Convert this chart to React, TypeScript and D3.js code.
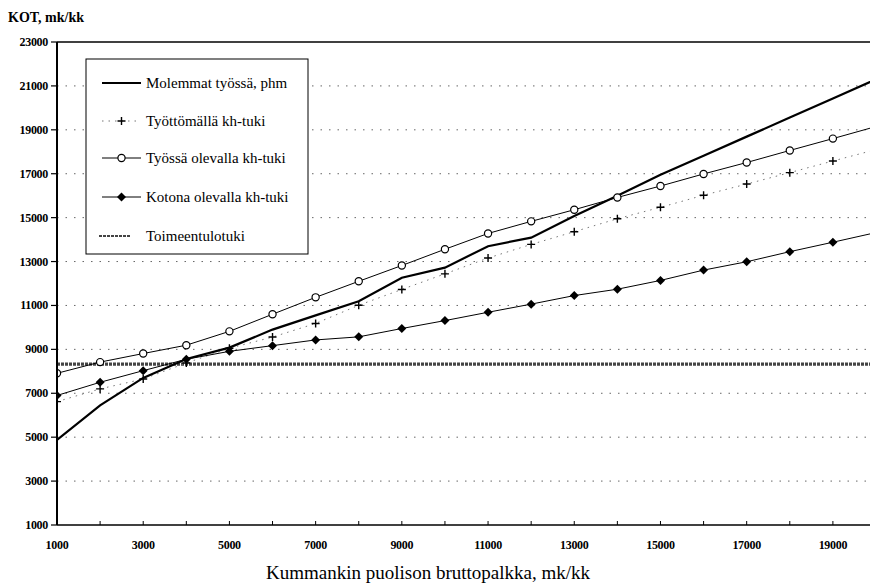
import React from "react";
import * as d3 from "d3";

const xValues = [1000, 2000, 3000, 4000, 5000, 6000, 7000, 8000, 9000, 10000, 11000, 12000, 13000, 14000, 15000, 16000, 17000, 18000, 19000, 20000];
const molemmat = [4880, 6450, 7700, 8560, 9080, 9900, 10550, 11190, 12260, 12720, 13700, 14090, 15070, 16000, 16950, 17820, 18690, 19560, 20430, 21300];
const tyottomalla = [6620, 7200, 7650, 8380, 9050, 9560, 10180, 11010, 11730, 12440, 13160, 13780, 14360, 14950, 15470, 16020, 16530, 17050, 17580, 18100];
const tyossa = [7910, 8420, 8810, 9190, 9820, 10600, 11370, 12100, 12820, 13560, 14280, 14830, 15360, 15920, 16440, 16990, 17510, 18060, 18600, 19150];
const kotona = [6900, 7500, 8030, 8550, 8910, 9170, 9430, 9570, 9950, 10310, 10690, 11060, 11450, 11740, 12140, 12610, 12990, 13450, 13880, 14320];
const toimeentulo = [8330, 8330, 8330, 8330, 8330, 8330, 8330, 8330, 8330, 8330, 8330, 8330, 8330, 8330, 8330, 8330, 8330, 8330, 8330, 8330];

const yTicks = [1000, 3000, 5000, 7000, 9000, 11000, 13000, 15000, 17000, 19000, 21000, 23000];
const xTickLabels = [1000, 3000, 5000, 7000, 9000, 11000, 13000, 15000, 17000, 19000];
const legendLabels = ["Molemmat työssä, phm", "Työttömällä kh-tuki", "Työssä olevalla kh-tuki", "Kotona olevalla kh-tuki", "Toimeentulotuki"];
const yTitle = "KOT, mk/kk";
const xTitle = "Kummankin puolison bruttopalkka, mk/kk";

const FONT = "'Liberation Serif', 'Times New Roman', serif";

export default function App() {
  const W = 870, H = 586;
  const left = 57, right = 876, top = 42, bottom = 525;
  const x = d3.scaleLinear().domain([1000, 20000]).range([left, right]);
  const y = d3.scaleLinear().domain([1000, 23000]).range([bottom, top]);

  const mk = (vals: number[]) =>
    d3.line<number>().x((_, i) => x(xValues[i])).y((v) => y(v))(vals) || "";

  const gridVals = yTicks.filter((v) => v > 1000 && v < 23000);
  const minorX = d3.range(1000, 20001, 1000);

  const plus = (cx: number, cy: number, s = 4) =>
    `M${cx - s},${cy}H${cx + s}M${cx},${cy - s}V${cy + s}`;
  const diamond = (cx: number, cy: number, s = 4.5) =>
    `M${cx},${cy - s}L${cx + s},${cy}L${cx},${cy + s}L${cx - s},${cy}Z`;

  const lgX = 86, lgY = 59, lgW = 222, lgH = 195;
  const rowY = [83, 121, 158, 197, 236];
  const sx0 = 102, sx1 = 141, tx = 146;

  return (
    <svg width={W} height={H} style={{ position: "absolute", left: 0, top: 0, background: "#fff" }} fontFamily={FONT}>
      <rect x={0} y={0} width={W} height={H} fill="#fff" />
      <clipPath id="plotclip">
        <rect x={left} y={top} width={right - left} height={bottom - top} />
      </clipPath>
      {gridVals.map((v) => (
        <line key={v} x1={left} x2={right} y1={y(v)} y2={y(v)} stroke="#666" strokeWidth={1} strokeDasharray="1.5 7" />
      ))}
      <g clipPath="url(#plotclip)">
        <path d={mk(toimeentulo)} fill="none" stroke="#444" strokeWidth={3.2} strokeDasharray="3 1" />
        <path d={mk(tyottomalla)} fill="none" stroke="#777" strokeWidth={1} strokeDasharray="1.5 5" />
        <path d={mk(kotona)} fill="none" stroke="#000" strokeWidth={1} />
        <path d={mk(tyossa)} fill="none" stroke="#000" strokeWidth={1} />
        <path d={mk(molemmat)} fill="none" stroke="#000" strokeWidth={2.2} />
        {tyottomalla.map((v, i) => (
          <path key={"p" + i} d={plus(x(xValues[i]), y(v))} stroke="#000" strokeWidth={1.4} fill="none" />
        ))}
        {kotona.map((v, i) => (
          <path key={"d" + i} d={diamond(x(xValues[i]), y(v))} fill="#000" />
        ))}
        {tyossa.map((v, i) => (
          <circle key={"c" + i} cx={x(xValues[i])} cy={y(v)} r={3.6} fill="#fff" stroke="#000" strokeWidth={1.2} />
        ))}
      </g>
      <line x1={left} x2={right} y1={top} y2={top} stroke="#000" strokeWidth={1.5} />
      <line x1={left} x2={right} y1={bottom} y2={bottom} stroke="#000" strokeWidth={1.5} />
      <line x1={left} x2={left} y1={top} y2={bottom} stroke="#000" strokeWidth={2} />
      {yTicks.map((v) => (
        <g key={v}>
          <line x1={left - 6} x2={left} y1={y(v)} y2={y(v)} stroke="#000" strokeWidth={1.2} />
          <text x={48} y={y(v) + 4} textAnchor="end" fontSize={12} fontWeight="bold" letterSpacing={-0.3}>
            {v}
          </text>
        </g>
      ))}
      {minorX.map((v) => (
        <line key={v} x1={x(v)} x2={x(v)} y1={bottom} y2={bottom - 4} stroke="#000" strokeWidth={1} />
      ))}
      {xTickLabels.map((v) => (
        <text key={v} x={x(v)} y={549} textAnchor="middle" fontSize={12} fontWeight="bold" letterSpacing={-0.3}>
          {v}
        </text>
      ))}
      <text x={8} y={22} fontSize={14} fontWeight="bold">{yTitle}</text>
      <text x={428} y={579} textAnchor="middle" fontSize={19}>{xTitle}</text>
      <rect x={lgX} y={lgY} width={lgW} height={lgH} fill="#fff" stroke="#000" strokeWidth={1} />
      <line x1={sx0} x2={sx1} y1={rowY[0]} y2={rowY[0]} stroke="#000" strokeWidth={2} />
      <line x1={sx0} x2={sx1} y1={rowY[1]} y2={rowY[1]} stroke="#777" strokeWidth={1} strokeDasharray="1.5 5" />
      <path d={plus((sx0 + sx1) / 2, rowY[1])} stroke="#000" strokeWidth={1.4} fill="none" />
      <line x1={sx0} x2={sx1} y1={rowY[2]} y2={rowY[2]} stroke="#000" strokeWidth={1} />
      <circle cx={(sx0 + sx1) / 2} cy={rowY[2]} r={3.6} fill="#fff" stroke="#000" strokeWidth={1.2} />
      <line x1={sx0} x2={sx1} y1={rowY[3]} y2={rowY[3]} stroke="#000" strokeWidth={1} />
      <path d={diamond((sx0 + sx1) / 2, rowY[3])} fill="#000" />
      <line x1={sx0 - 3} x2={sx1 - 10} y1={rowY[4]} y2={rowY[4]} stroke="#444" strokeWidth={2} strokeDasharray="3 1" />
      {legendLabels.map((t, i) => (
        <text key={t} x={tx} y={rowY[i] + 5} fontSize={15}>
          {t}
        </text>
      ))}
    </svg>
  );
}
